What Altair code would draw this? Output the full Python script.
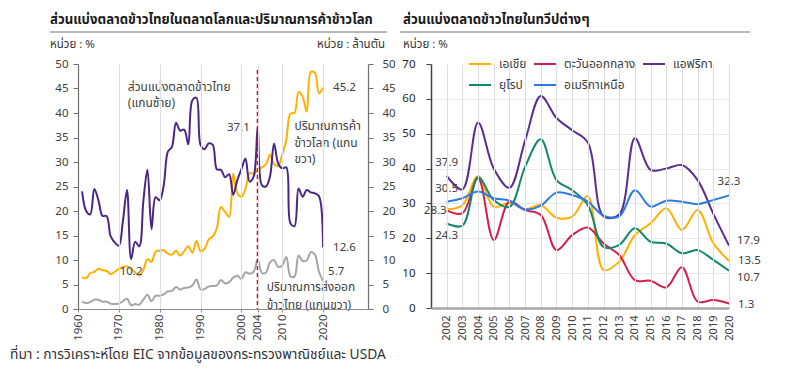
import altair as alt
import pandas as pd

# ---------------- data: left panel (world market) ----------------
years_left = list(range(1961, 2021))
thai_share = [24.0, 20.0, 19.3, 24.5, 22.2, 19.0, 19.0, 14.8, 13.6, 12.9,
              18.0, 24.3, 10.2, 13.7, 12.8, 22.0, 28.4, 16.3, 22.8, 22.2,
              25.3, 32.1, 33.1, 38.0, 36.4, 36.6, 33.6, 42.6, 43.1, 33.5,
              32.6, 33.8, 33.5, 28.5, 28.4, 26.9, 27.5, 23.3, 26.3, 28.5,
              30.7, 26.0, 27.0, 37.1, 25.3, 25.0, 27.0, 33.8, 29.7, 28.7,
              28.9, 17.5, 16.9, 24.6, 22.9, 24.3, 23.8, 23.6, 23.0, 12.6]
world_trade = [6.5, 6.3, 7.3, 7.6, 8.2, 7.9, 7.8, 7.1, 7.6, 8.2,
               8.6, 8.7, 8.2, 7.5, 6.9, 8.0, 10.2, 9.6, 11.7, 11.9,
               12.0, 11.3, 11.1, 11.9, 10.9, 11.8, 12.8, 11.5, 13.9, 11.8,
               12.3, 14.2, 14.8, 16.5, 20.8, 19.8, 18.8, 27.6, 23.6, 22.9,
               24.5, 27.7, 27.6, 28.3, 28.9, 29.5, 31.5, 29.6, 29.2, 31.5,
               34.5, 39.9, 40.0, 44.3, 43.3, 40.3, 48.4, 48.2, 44.0, 45.2]
thai_export = [1.5, 1.2, 1.4, 1.9, 1.9, 1.5, 1.5, 1.1, 1.0, 1.1,
               1.6, 2.1, 0.8, 1.0, 0.9, 1.9, 2.9, 1.6, 2.7, 2.7,
               3.0, 3.6, 3.7, 4.5, 4.0, 4.3, 4.4, 4.8, 6.0, 4.0,
               4.1, 4.6, 4.7, 4.8, 5.9, 5.2, 5.5, 6.4, 6.8, 6.1,
               7.5, 7.2, 7.6, 10.1, 7.4, 7.4, 9.5, 10.0, 8.6, 8.9,
               10.6, 6.7, 6.6, 10.9, 9.8, 9.9, 11.6, 11.1, 7.6, 5.7]
left_ticks_x = [1960, 1970, 1980, 1990, 2000, 2004, 2010, 2020]
left_ticks_y = [0, 5, 10, 15, 20, 25, 30, 35, 40, 45, 50]
marker_year = [2004]

# ---------------- data: right panel (regions) ----------------
years_right = list(range(2002, 2021))
regions = ["เอเชีย", "ตะวันออกกลาง", "แอฟริกา", "ยุโรป", "อเมริกาเหนือ"]
asia = [28.3, 29.5, 37.8, 29.0, 30.2, 28.3, 29.5, 25.9, 26.2, 32.1,
        10.9, 13.3, 20.9, 24.3, 28.6, 22.4, 28.1, 18.6, 13.5]
middle_east = [28.0, 27.2, 37.2, 19.5, 30.5, 28.1, 26.7, 16.6, 20.9, 23.1,
               18.5, 15.2, 8.0, 7.8, 5.9, 11.7, 1.8, 2.3, 1.3]
africa = [37.9, 34.0, 53.2, 40.0, 34.5, 48.0, 60.8, 54.5, 51.0, 47.5,
          26.3, 26.8, 48.7, 39.6, 40.0, 41.0, 36.7, 27.0, 17.9]
europe = [24.3, 23.6, 37.5, 31.0, 29.0, 40.5, 48.4, 36.7, 33.8, 29.5,
          17.5, 18.1, 22.9, 19.0, 18.5, 15.7, 16.6, 13.8, 10.7]
america = [30.5, 31.5, 33.4, 31.5, 30.8, 28.3, 29.4, 33.1, 32.4, 30.5,
           26.5, 26.3, 33.8, 29.1, 30.8, 30.5, 29.8, 31.0, 32.3]
right_ticks_y = [0, 10, 20, 30, 40, 50, 60, 70]

FONT = "Tahoma, 'Noto Sans Thai', 'Noto Sans', 'DejaVu Sans', sans-serif"
TXT = "#404040"

one = pd.DataFrame({"k": [0]})


def ptext(txt, x, y, size=11, weight="normal", align="left", color="#333333"):
    return alt.Chart(one).mark_text(
        text=txt, align=align, baseline="middle", fontSize=size,
        fontWeight=weight, color=color, font=FONT
    ).encode(x=alt.value(x), y=alt.value(y))


def prule(x1, x2, y):
    return alt.Chart(one).mark_rule(color="#6f6f6f", strokeWidth=1).encode(
        x=alt.value(x1), x2=alt.value(x2), y=alt.value(y))


# ---------------- left panel ----------------
LW, LH = 290, 245
xs_l = alt.Scale(domain=[1960, 2031], nice=False, zero=False)
ys_l = alt.Scale(domain=[0, 50], nice=False)

df_left = pd.DataFrame({"year": years_left, "share": thai_share,
                        "trade": world_trade, "export": thai_export})

ax_common = dict(grid=False, title=None, values=left_ticks_y, domainColor="#6f6f6f",
                 domainWidth=1.2, tickColor="#6f6f6f", tickSize=5, labelFontSize=11.5,
                 labelColor=TXT, labelFont=FONT, zindex=1)

x_axis_l = alt.Axis(values=left_ticks_x, format="d", labelAngle=-90, title=None,
                    labelFlush=False, labelOverlap=False, domainColor="#8c8c8c",
                    domainWidth=1.2, tickColor="#8c8c8c", tickSize=3, labelPadding=2,
                    labelFontSize=11.5, labelColor=TXT, labelFont=FONT, zindex=1)
X_L = alt.X("year:Q", scale=xs_l, axis=x_axis_l)

# transparent frame that fixes the overall extent of the picture
frame = alt.Chart(one).mark_rect(fillOpacity=0, strokeOpacity=0).encode(
    x=alt.value(-70), x2=alt.value(718), y=alt.value(-56), y2=alt.value(300))

gray_line = alt.Chart(df_left).mark_line(
    color="#a5a5a5", strokeWidth=2, interpolate="catmull-rom"
).encode(x=X_L, y=alt.Y("export:Q", scale=ys_l, axis=None))

orange_line = alt.Chart(df_left).mark_line(
    color="#ffb000", strokeWidth=2, interpolate="catmull-rom"
).encode(x=X_L,
         y=alt.Y("trade:Q", scale=ys_l,
                 axis=alt.Axis(orient="right", labelPadding=9, **ax_common)))

df_marker = pd.DataFrame({"year": marker_year})
marker = alt.Chart(df_marker).mark_rule(
    color="#ee0000", stroke="#ee0000", strokeWidth=2, strokeDash=[4, 3], opacity=1
).encode(x=X_L, y=alt.value(6), y2=alt.value(LH))

purple_line = alt.Chart(df_left).mark_line(
    color="#4b2785", strokeWidth=2, interpolate="catmull-rom"
).encode(x=X_L,
         y=alt.Y("share:Q", scale=ys_l,
                 axis=alt.Axis(orient="left", labelPadding=5, **ax_common)))


def vlabel(year, value, text, X, ys, align="center", dx=0, dy=0):
    d = pd.DataFrame({"year": [year], "v": [value], "t": [text]})
    return alt.Chart(d).mark_text(
        align=align, baseline="middle", dx=dx, dy=dy, fontSize=11.5,
        color=TXT, font=FONT
    ).encode(x=X, y=alt.Y("v:Q", scale=ys, axis=None), text="t:N")


left_labels = [
    vlabel(2004, 37.1, "37.1", X_L, ys_l, align="right", dx=-8, dy=1),
    vlabel(2020, 45.2, "45.2", X_L, ys_l, align="left", dx=10, dy=0),
    vlabel(2020, 12.6, "12.6", X_L, ys_l, align="left", dx=10, dy=1),
    vlabel(2020, 5.7, "5.7", X_L, ys_l, align="left", dx=5, dy=-9),
    vlabel(1973, 10.2, "10.2", X_L, ys_l, align="center", dx=0, dy=13),
]

# free annotations, placed in data coordinates
note_text = ["ส่วนแบ่งตลาดข้าวไทย", "(แกนซ้าย)",
             "ปริมาณการค้า", "ข้าวโลก (แกน", "ขวา)",
             "ปริมาณการส่งออก", "ข้าวไทย (แกนขวา)"]
note_year = [1972.2, 1972.2, 2013.0, 2013.0, 2013.0, 2006.2, 2006.2]
note_val = [45.4, 42.0, 37.35, 33.95, 30.55, 4.45, 0.85]
df_notes = pd.DataFrame({"year": note_year, "v": note_val, "t": note_text})
notes = alt.Chart(df_notes).mark_text(
    align="left", baseline="middle", fontSize=12, color=TXT, font=FONT
).encode(x=X_L, y=alt.Y("v:Q", scale=ys_l, axis=None), text="t:N")

left = alt.layer(
    frame,
    ptext("ส่วนแบ่งตลาดข้าวไทยในตลาดโลกและปริมาณการค้าข้าวโลก", -28, -44,
          size=13.2, weight="bold", color="#1a1a1a"),
    prule(-28, 309, -32),
    ptext("หน่วย : %", -28, -19, size=11.5),
    ptext("หน่วย : ล้านตัน", 307, -19, size=11.5, align="right"),
    ptext("ที่มา : การวิเคราะห์โดย EIC จากข้อมูลของกระทรวงพาณิชย์และ USDA", -68, 291, size=13.8),
    gray_line, orange_line, purple_line, marker, notes, *left_labels
).resolve_axis(y="independent").properties(width=LW, height=LH)

# ---------------- right panel ----------------
RW, RH = 298, 244
RIGHT_OFFSET = LW + 63   # where the right plot starts, from the left plot's origin
xs_r = alt.Scale(domain=[2001, 2020], nice=False, zero=False)
ys_r = alt.Scale(domain=[0, 70], nice=False)
colors = ["#ffb000", "#d21f4e", "#5a2d91", "#12876f", "#2c7be5"]

X_R = alt.X("year:Q", scale=xs_r,
            axis=alt.Axis(values=years_right, format="d", labelAngle=-90, title=None,
                          ticks=False, labelFlush=False, labelOverlap=False,
                          domainColor="#a6a6a6", domainWidth=2.5, labelPadding=7,
                          labelFontSize=11, labelColor=TXT, labelFont=FONT, zindex=1))
Y_AXIS_R = alt.Axis(values=right_ticks_y, title=None, grid=True, gridColor="#e3e8f1",
                    gridOpacity={"condition": {"test": "datum.value == 70", "value": 0},
                                 "value": 1},
                    domainColor="#404040", domainWidth=1.5, tickColor="#404040",
                    tickSize=5, labelPadding=11, labelFontSize=11.5,
                    labelColor="#262626", labelFont=FONT)

series = [asia, middle_east, africa, europe, america]
rows = []
for name, vals in zip(regions, series):
    for y, v in zip(years_right, vals):
        rows.append({"year": y, "v": v, "region": name})
df_right = pd.DataFrame(rows)

right_lines = alt.Chart(df_right).mark_line(
    strokeWidth=2, interpolate="catmull-rom"
).encode(
    x=X_R,
    y=alt.Y("v:Q", scale=ys_r, axis=Y_AXIS_R),
    color=alt.Color("region:N", scale=alt.Scale(domain=regions, range=colors),
                    legend=alt.Legend(orient="none", direction="horizontal",
                                      legendX=RIGHT_OFFSET + 37, legendY=-12, columns=3,
                                      title=None, symbolType="stroke", symbolSize=484,
                                      symbolStrokeWidth=2, labelFontSize=12,
                                      labelColor=TXT, labelFont=FONT, labelOffset=7,
                                      columnPadding=3, rowPadding=3)),
    order="region:N",
)


def rlabel(year, value, text, align="center", dx=0, dy=0):
    d = pd.DataFrame({"year": [year], "v": [value], "t": [text]})
    return alt.Chart(d).mark_text(
        align=align, baseline="middle", dx=dx, dy=dy, fontSize=11.5,
        color=TXT, font=FONT
    ).encode(x=X_R, y=alt.Y("v:Q", scale=ys_r, axis=Y_AXIS_R), text="t:N")


right_labels = [
    rlabel(2002, 37.9, "37.9", align="center", dy=-13),
    rlabel(2002, 30.5, "30.5", align="center", dy=-13),
    rlabel(2002, 28.3, "28.3", align="right", dx=0, dy=2),
    rlabel(2002, 24.3, "24.3", align="center", dy=13),
    rlabel(2020, 32.3, "32.3", align="center", dy=-13),
    rlabel(2020, 17.9, "17.9", align="left", dx=8, dy=-5),
    rlabel(2020, 13.5, "13.5", align="left", dx=9, dy=0),
    rlabel(2020, 10.7, "10.7", align="left", dx=8, dy=7),
    rlabel(2020, 1.3, "1.3", align="left", dx=9, dy=1.5),
]

right = alt.layer(
    ptext("ส่วนแบ่งตลาดข้าวไทยในทวีปต่างๆ", -28, -44, size=13.2, weight="bold",
          color="#1a1a1a"),
    prule(-31, 319, -32),
    ptext("หน่วย : %", -28, -19, size=11.5),
    right_lines, *right_labels
).properties(width=RW, height=RH)

chart = alt.hconcat(left, right, spacing=63, bounds="flush").properties(
    padding=0, background="white"
).configure_view(stroke=None).configure_text(font=FONT)

chart.save("out.html", embed_options={"renderer": "svg", "actions": False})
